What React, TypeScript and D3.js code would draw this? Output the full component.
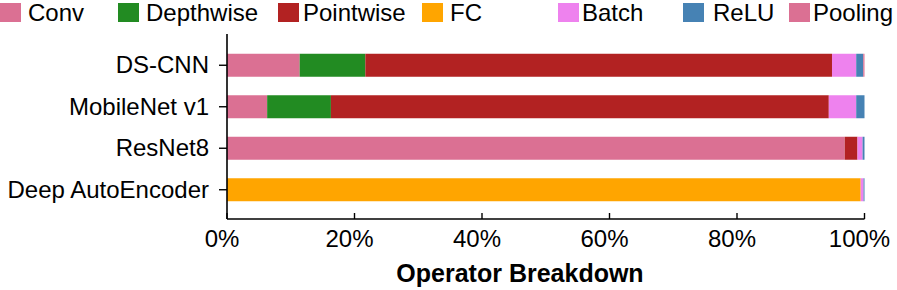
import * as d3 from "d3";
import * as React from "react";

const models = ["DS-CNN", "MobileNet v1", "ResNet8", "Deep AutoEncoder"];
const operators = ["Conv", "Depthwise", "Pointwise", "FC", "Batch", "ReLU", "Pooling"];
const colors = ["#DB7093", "#228B22", "#B22222", "#FFA500", "#EE82EE", "#4682B4", "#DB7093"];

// share of runtime per operator (%), one value per model
const conv = [11.4, 6.3, 96.9, 0];
const depthwise = [10.3, 10.0, 0, 0];
const pointwise = [73.2, 78.1, 2.0, 0];
const fc = [0, 0, 0, 99.4];
const batch = [3.8, 4.3, 0.8, 0.45];
const relu = [1.1, 1.3, 0.3, 0.15];
const pooling = [0.2, 0, 0, 0];

const xTicks = [0, 20, 40, 60, 80, 100];

// legend layout: square x and text x for each entry
const legendSquareX = [0, 118, 278, 422, 558, 683, 789];
const legendTextX = [28, 146, 303, 450, 582, 713, 813];

type Row = { model: string } & Record<string, number | string>;

export default function App() {
  const width = 897;
  const height = 290;
  const marginLeft = 227;
  const marginRight = 32;
  const marginTop = 34;
  const plotBottom = 219;
  const font = "'Liberation Sans', Arial, sans-serif";

  const svgRef = React.useRef<SVGSVGElement>(null);

  const rows: Row[] = models.map((m, i) => ({
    model: m,
    Conv: conv[i],
    Depthwise: depthwise[i],
    Pointwise: pointwise[i],
    FC: fc[i],
    Batch: batch[i],
    ReLU: relu[i],
    Pooling: pooling[i],
  }));

  React.useEffect(() => {
    const el = svgRef.current;
    if (el == null) return;
    const svg = d3.select(el);
    svg.selectAll("*").remove();

    const x = d3.scaleLinear([0, 100], [marginLeft, width - marginRight - 0.5]);
    const y = d3
      .scaleBand<string>()
      .domain(models)
      .range([marginTop + 1, plotBottom + 1])
      .paddingInner(0.446)
      .paddingOuter(0.452);

    const color = d3.scaleOrdinal<string, string>(operators, colors);
    const stacked = d3.stack<Row>().keys(operators)(rows);

    // bars
    svg
      .append("g")
      .selectAll("g")
      .data(stacked)
      .join("g")
      .attr("fill", (d) => color(d.key))
      .selectAll("rect")
      .data((d) => d)
      .join("rect")
      .attr("x", (d) => x(d[0]))
      .attr("width", (d) => Math.max(0, x(d[1]) - x(d[0])))
      .attr("y", (d) => y(d.data.model as string)!)
      .attr("height", y.bandwidth());

    // left axis
    const left = svg.append("g").attr("transform", `translate(${marginLeft},0)`);
    left
      .append("line")
      .attr("x1", 0)
      .attr("x2", 0)
      .attr("y1", marginTop)
      .attr("y2", plotBottom)
      .attr("stroke", "#000")
      .attr("stroke-width", 1.6);
    models.forEach((m) => {
      const cy = y(m)! + y.bandwidth() / 2;
      left
        .append("line")
        .attr("x1", -8)
        .attr("x2", 0)
        .attr("y1", cy)
        .attr("y2", cy)
        .attr("stroke", "#000")
        .attr("stroke-width", 1.4);
      left
        .append("text")
        .attr("x", -18)
        .attr("y", cy + 8)
        .attr("text-anchor", "end")
        .attr("font-family", font)
        .attr("font-size", 24)
        .attr("fill", "#000")
        .text(m);
    });

    // bottom axis
    const bottom = svg.append("g");
    bottom
      .append("line")
      .attr("x1", marginLeft)
      .attr("x2", x(100))
      .attr("y1", plotBottom)
      .attr("y2", plotBottom)
      .attr("stroke", "#000")
      .attr("stroke-width", 1.6);
    xTicks.forEach((t) => {
      bottom
        .append("line")
        .attr("x1", x(t))
        .attr("x2", x(t))
        .attr("y1", plotBottom - 6)
        .attr("y2", plotBottom)
        .attr("stroke", "#000")
        .attr("stroke-width", 1.4);
      bottom
        .append("text")
        .attr("x", x(t) - 5)
        .attr("y", 247)
        .attr("text-anchor", "middle")
        .attr("font-family", font)
        .attr("font-size", 24)
        .attr("fill", "#000")
        .text(`${t}%`);
    });

    svg
      .append("text")
      .attr("x", 520)
      .attr("y", 282)
      .attr("text-anchor", "middle")
      .attr("font-family", font)
      .attr("font-size", 25)
      .attr("font-weight", "bold")
      .attr("fill", "#000")
      .text("Operator Breakdown");

    // legend
    const legend = svg.append("g");
    operators.forEach((op, i) => {
      legend
        .append("rect")
        .attr("x", legendSquareX[i])
        .attr("y", 3)
        .attr("width", 21)
        .attr("height", 19)
        .attr("fill", colors[i]);
      legend
        .append("text")
        .attr("x", legendTextX[i])
        .attr("y", 21)
        .attr("font-family", font)
        .attr("font-size", 24)
        .attr("fill", "#000")
        .text(op);
    });
  }, [rows]);

  return (
    <svg
      ref={svgRef}
      width={width}
      height={height}
      viewBox={`0 0 ${width} ${height}`}
      style={{ position: "absolute", left: 0, top: 0, background: "#fff" }}
    />
  );
}
